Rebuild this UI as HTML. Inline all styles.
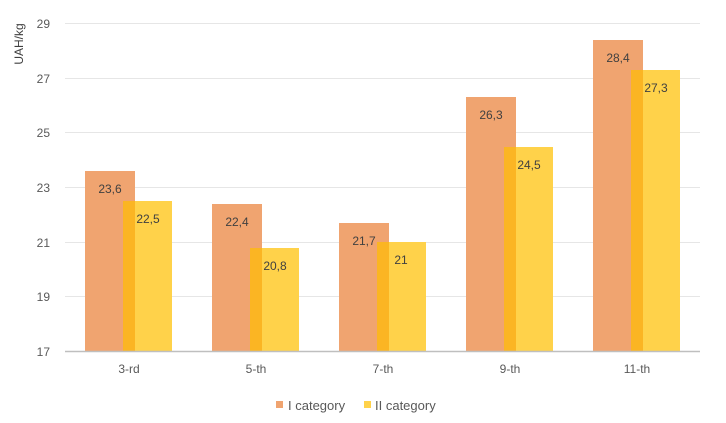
<!DOCTYPE html>
<html><head><meta charset="utf-8"><style>
html,body{margin:0;padding:0;background:#fff;}
svg{display:block;font-family:"Liberation Sans",sans-serif;}
</style></head><body>
<svg width="726" height="423" viewBox="0 0 726 423">
<g stroke="#e6e6e6" stroke-width="1">
<line x1="65" x2="700" y1="23.5" y2="23.5"/>
<line x1="65" x2="700" y1="78.5" y2="78.5"/>
<line x1="65" x2="700" y1="132.5" y2="132.5"/>
<line x1="65" x2="700" y1="187.5" y2="187.5"/>
<line x1="65" x2="700" y1="242.5" y2="242.5"/>
<line x1="65" x2="700" y1="296.5" y2="296.5"/>
</g>
<g font-size="12" fill="#595959" text-anchor="end">
<text x="50" y="28">29</text>
<text x="50" y="83">27</text>
<text x="50" y="137">25</text>
<text x="50" y="192">23</text>
<text x="50" y="247">21</text>
<text x="50" y="301">19</text>
<text x="50" y="356">17</text>
</g>
<text transform="translate(23,44) rotate(-90)" font-size="12" fill="#404040" text-anchor="middle">UAH/kg</text>
<g>
<rect x="85" y="171" width="50" height="180" fill="#F0A470"/>
<rect x="212" y="204" width="50" height="147" fill="#F0A470"/>
<rect x="339" y="223" width="50" height="128" fill="#F0A470"/>
<rect x="466" y="97" width="50" height="254" fill="#F0A470"/>
<rect x="593" y="40" width="50" height="311" fill="#F0A470"/>
<rect x="123" y="201" width="49" height="150" fill="#FFD24A"/>
<rect x="250" y="248" width="49" height="103" fill="#FFD24A"/>
<rect x="377" y="242" width="49" height="109" fill="#FFD24A"/>
<rect x="504" y="147" width="49" height="204" fill="#FFD24A"/>
<rect x="631" y="70" width="49" height="281" fill="#FFD24A"/>
<rect x="123" y="201" width="12" height="150" fill="#FBB523"/>
<rect x="250" y="248" width="12" height="103" fill="#FBB523"/>
<rect x="377" y="242" width="12" height="109" fill="#FBB523"/>
<rect x="504" y="147" width="12" height="204" fill="#FBB523"/>
<rect x="631" y="70" width="12" height="281" fill="#FBB523"/>
</g>
<line x1="65" x2="700" y1="351.5" y2="351.5" stroke="#bfbfbf" stroke-width="1.5"/>
<g font-size="12" fill="#404040" text-anchor="middle">
<text x="110" y="193">23,6</text>
<text x="148" y="223">22,5</text>
<text x="237" y="226">22,4</text>
<text x="275" y="270">20,8</text>
<text x="364" y="245">21,7</text>
<text x="401" y="264">21</text>
<text x="491" y="119">26,3</text>
<text x="529" y="169">24,5</text>
<text x="618" y="62">28,4</text>
<text x="656" y="92">27,3</text>
</g>
<g font-size="12" fill="#595959" text-anchor="middle">
<text x="129" y="373">3-rd</text>
<text x="256" y="373">5-th</text>
<text x="383" y="373">7-th</text>
<text x="510" y="373">9-th</text>
<text x="637" y="373">11-th</text>
</g>
<rect x="276" y="401" width="7" height="7" fill="#F0A470"/>
<text x="288" y="410" font-size="13" fill="#595959">I category</text>
<rect x="364" y="401" width="7" height="7" fill="#FFD24A"/>
<text x="375" y="410" font-size="13" fill="#595959">II category</text>
</svg>
</body></html>
